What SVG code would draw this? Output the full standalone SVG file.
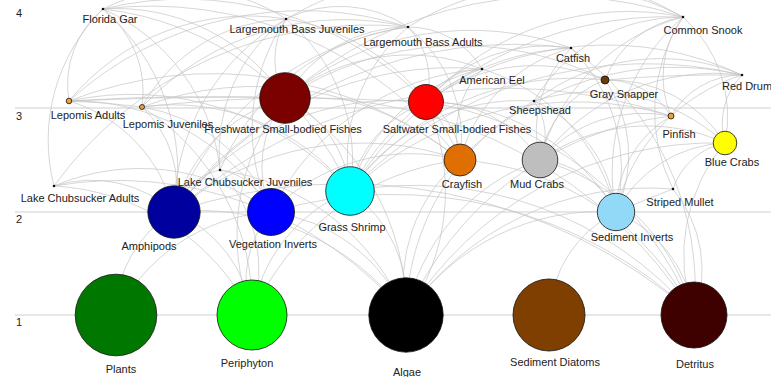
<svg xmlns="http://www.w3.org/2000/svg" width="771" height="377" viewBox="0 0 771 377">
<style>
text{font-family:"Liberation Sans",Arial,sans-serif;font-size:11px;fill:#222;text-anchor:middle}
.lvl{text-anchor:start}
.axis{stroke:#cfcfcf;stroke-width:1}
#edges path{fill:none;stroke:#c4c4c4;stroke-width:0.7}
.n{stroke:#111;stroke-width:0.8}
.dot{fill:#111}
</style>
<rect width="771" height="377" fill="#fff"/>
<g id="axes">
<line class="axis" x1="15" y1="315" x2="771" y2="315"/>
<line class="axis" x1="15" y1="212" x2="771" y2="212"/>
<line class="axis" x1="15" y1="108" x2="771" y2="108"/>
<text class="lvl" x="16" y="17">4</text>
<text class="lvl" x="16" y="120">3</text>
<text class="lvl" x="16" y="223">2</text>
<text class="lvl" x="16" y="326">1</text>
</g>
<g id="edges">
<path d="M69 101A98 98 0 0 1 103 9"/>
<path d="M103 9A105 105 0 0 1 142 107"/>
<path d="M103 9A203 203 0 0 1 285 98"/>
<path d="M54 186A184 184 0 0 1 103 9"/>
<path d="M103 9A199 199 0 0 1 220 170"/>
<path d="M103 9A307 307 0 0 1 350 191"/>
<path d="M103 9A388 388 0 0 1 460 160"/>
<path d="M103 9A215 215 0 0 1 174 212"/>
<path d="M103 9A336 336 0 0 1 426 102"/>
<path d="M103 9A183 183 0 0 1 286 19"/>
<path d="M285 98A79 79 0 0 1 286 19"/>
<path d="M142 107A169 169 0 0 1 286 19"/>
<path d="M286 19A183 183 0 0 1 350 191"/>
<path d="M174 212A223 223 0 0 1 286 19"/>
<path d="M271 212A194 194 0 0 1 286 19"/>
<path d="M286 19A224 224 0 0 1 460 160"/>
<path d="M220 170A165 165 0 0 1 286 19"/>
<path d="M69 101A232 232 0 0 1 286 19"/>
<path d="M285 98A142 142 0 0 1 408 27"/>
<path d="M69 101A347 347 0 0 1 408 27"/>
<path d="M142 107A278 278 0 0 1 408 27"/>
<path d="M54 186A388 388 0 0 1 408 27"/>
<path d="M220 170A236 236 0 0 1 408 27"/>
<path d="M408 27A143 143 0 0 1 460 160"/>
<path d="M350 191A174 174 0 0 1 408 27"/>
<path d="M286 19A122 122 0 0 1 408 27"/>
<path d="M408 27A85 85 0 0 1 482 69"/>
<path d="M408 27A77 77 0 0 1 426 102"/>
<path d="M174 212A298 298 0 0 1 408 27"/>
<path d="M426 102A271 271 0 0 1 683 17"/>
<path d="M671 116A100 100 0 0 1 683 17"/>
<path d="M673 189A172 172 0 0 1 683 17"/>
<path d="M540 160A202 202 0 0 1 683 17"/>
<path d="M683 17A133 133 0 0 1 725 143"/>
<path d="M534 101A171 171 0 0 1 683 17"/>
<path d="M605 80A100 100 0 0 1 683 17"/>
<path d="M350 191A376 376 0 0 1 683 17"/>
<path d="M285 98A406 406 0 0 1 683 17"/>
<path d="M616 212A206 206 0 0 1 683 17"/>
<path d="M408 27A275 275 0 0 1 683 17"/>
<path d="M286 19A397 397 0 0 1 683 17"/>
<path d="M460 160A158 158 0 0 1 571 48"/>
<path d="M540 160A116 116 0 0 1 571 48"/>
<path d="M571 48A170 170 0 0 1 616 212"/>
<path d="M426 102A155 155 0 0 1 571 48"/>
<path d="M174 212A430 430 0 0 1 571 48"/>
<path d="M350 191A263 263 0 0 1 571 48"/>
<path d="M571 48A294 294 0 0 1 694 315"/>
<path d="M285 98A290 290 0 0 1 571 48"/>
<path d="M460 160A94 94 0 0 1 482 69"/>
<path d="M174 212A340 340 0 0 1 482 69"/>
<path d="M271 212A255 255 0 0 1 482 69"/>
<path d="M350 191A180 180 0 0 1 482 69"/>
<path d="M426 102A65 65 0 0 1 482 69"/>
<path d="M285 98A199 199 0 0 1 482 69"/>
<path d="M482 69A196 196 0 0 1 616 212"/>
<path d="M426 102A180 180 0 0 1 605 80"/>
<path d="M605 80A75 75 0 0 1 671 116"/>
<path d="M540 160A103 103 0 0 1 605 80"/>
<path d="M605 80A136 136 0 0 1 725 143"/>
<path d="M350 191A278 278 0 0 1 605 80"/>
<path d="M605 80A132 132 0 0 1 616 212"/>
<path d="M285 98A320 320 0 0 1 605 80"/>
<path d="M725 143A70 70 0 0 1 742 75"/>
<path d="M540 160A219 219 0 0 1 742 75"/>
<path d="M616 212A186 186 0 0 1 742 75"/>
<path d="M671 116A82 82 0 0 1 742 75"/>
<path d="M426 102A317 317 0 0 1 742 75"/>
<path d="M350 191A409 409 0 0 1 742 75"/>
<path d="M534 101A210 210 0 0 1 742 75"/>
<path d="M605 80A1370 1370 0 0 1 742 75"/>
<path d="M460 160A295 295 0 0 1 742 75"/>
<path d="M69 101A2160 2160 0 0 1 285 98"/>
<path d="M69 101A153 153 0 0 1 174 212"/>
<path d="M69 101A230 230 0 0 1 271 212"/>
<path d="M69 101A295 295 0 0 1 350 191"/>
<path d="M69 101A395 395 0 0 1 460 160"/>
<path d="M69 101A730 730 0 0 1 142 107"/>
<path d="M69 101A3570 3570 0 0 1 426 102"/>
<path d="M142 107A110 110 0 0 1 174 212"/>
<path d="M142 107A166 166 0 0 1 271 212"/>
<path d="M142 107A224 224 0 0 1 350 191"/>
<path d="M142 107A235 235 0 0 1 252 315"/>
<path d="M142 107A1430 1430 0 0 1 285 98"/>
<path d="M142 107A322 322 0 0 1 460 160"/>
<path d="M174 212A159 159 0 0 1 285 98"/>
<path d="M271 212A115 115 0 0 1 285 98"/>
<path d="M285 98A113 113 0 0 1 350 191"/>
<path d="M252 315A220 220 0 0 1 285 98"/>
<path d="M285 98A248 248 0 0 1 406 315"/>
<path d="M285 98A463 463 0 0 1 694 315"/>
<path d="M350 191A117 117 0 0 1 426 102"/>
<path d="M426 102A220 220 0 0 1 616 212"/>
<path d="M426 102A214 214 0 0 1 406 315"/>
<path d="M426 102A342 342 0 0 1 694 315"/>
<path d="M426 102A128 128 0 0 1 540 160"/>
<path d="M174 212A275 275 0 0 1 426 102"/>
<path d="M426 102A67 67 0 0 1 460 160"/>
<path d="M534 101A59 59 0 0 1 540 160"/>
<path d="M534 101A196 196 0 0 1 725 143"/>
<path d="M534 101A138 138 0 0 1 616 212"/>
<path d="M406 315A249 249 0 0 1 534 101"/>
<path d="M350 191A205 205 0 0 1 534 101"/>
<path d="M616 212A111 111 0 0 1 671 116"/>
<path d="M350 191A330 330 0 0 1 671 116"/>
<path d="M406 315A331 331 0 0 1 671 116"/>
<path d="M174 212A506 506 0 0 1 671 116"/>
<path d="M540 160A138 138 0 0 1 671 116"/>
<path d="M616 212A129 129 0 0 1 725 143"/>
<path d="M694 315A175 175 0 0 1 725 143"/>
<path d="M540 160A186 186 0 0 1 725 143"/>
<path d="M406 315A363 363 0 0 1 725 143"/>
<path d="M673 189A69 69 0 0 1 725 143"/>
<path d="M460 160A281 281 0 0 1 694 315"/>
<path d="M252 315A259 259 0 0 1 460 160"/>
<path d="M406 315A164 164 0 0 1 460 160"/>
<path d="M271 212A196 196 0 0 1 460 160"/>
<path d="M174 212A291 291 0 0 1 460 160"/>
<path d="M540 160A218 218 0 0 1 694 315"/>
<path d="M540 160A92 92 0 0 1 616 212"/>
<path d="M406 315A205 205 0 0 1 540 160"/>
<path d="M350 191A136 136 0 0 1 406 315"/>
<path d="M252 315A158 158 0 0 1 350 191"/>
<path d="M350 191A366 366 0 0 1 694 315"/>
<path d="M54 186A123 123 0 0 1 174 212"/>
<path d="M54 186A219 219 0 0 1 271 212"/>
<path d="M54 186A236 236 0 0 1 252 315"/>
<path d="M54 186A375 375 0 0 1 406 315"/>
<path d="M174 212A62 62 0 0 1 220 170"/>
<path d="M220 170A66 66 0 0 1 271 212"/>
<path d="M220 170A148 148 0 0 1 252 315"/>
<path d="M220 170A236 236 0 0 1 406 315"/>
<path d="M116 315A118 118 0 0 1 174 212"/>
<path d="M174 212A129 129 0 0 1 252 315"/>
<path d="M174 212A254 254 0 0 1 406 315"/>
<path d="M174 212A530 530 0 0 1 694 315"/>
<path d="M116 315A186 186 0 0 1 271 212"/>
<path d="M252 315A105 105 0 0 1 271 212"/>
<path d="M271 212A170 170 0 0 1 406 315"/>
<path d="M271 212A435 435 0 0 1 694 315"/>
<path d="M549 315A123 123 0 0 1 616 212"/>
<path d="M616 212A129 129 0 0 1 694 315"/>
<path d="M406 315A234 234 0 0 1 616 212"/>
<path d="M673 189A128 128 0 0 1 694 315"/>
<path d="M406 315A295 295 0 0 1 673 189"/>
<path d="M616 212A2000 2000 0 0 1 673 189"/>
</g>
<g id="n-florida-gar"><circle class="dot" cx="103" cy="9" r="1.3"/><text x="110" y="23">Florida Gar</text></g>
<g id="n-lmb-juveniles"><circle class="dot" cx="286" cy="19" r="1.3"/><text x="297" y="33">Largemouth Bass Juveniles</text></g>
<g id="n-lmb-adults"><circle class="dot" cx="408" cy="27" r="1.3"/><text x="423" y="46">Largemouth Bass Adults</text></g>
<g id="n-common-snook"><circle class="dot" cx="683" cy="17" r="1.3"/><text x="703" y="34">Common Snook</text></g>
<g id="n-catfish"><circle class="dot" cx="571" cy="48" r="1.3"/><text x="573" y="62">Catfish</text></g>
<g id="n-american-eel"><circle class="dot" cx="482" cy="69" r="1.3"/><text x="492" y="84">American Eel</text></g>
<g id="n-gray-snapper"><circle class="n" cx="605" cy="80" r="4" fill="#6b3a0b"/><text x="624" y="98">Gray Snapper</text></g>
<g id="n-red-drum"><circle class="dot" cx="742" cy="75" r="1.3"/><text x="747" y="90">Red Drum</text></g>
<g id="n-lepomis-adults"><circle class="n" cx="69" cy="101" r="2.8" fill="#f0a040"/><text x="88" y="119">Lepomis Adults</text></g>
<g id="n-lepomis-juveniles"><circle class="n" cx="142" cy="107" r="2.5" fill="#f0a040"/><text x="168" y="128">Lepomis Juveniles</text></g>
<g id="n-freshwater-fishes"><circle class="n" cx="285" cy="98" r="25.3" fill="#7b0000"/><text x="283" y="133">Freshwater Small-bodied Fishes</text></g>
<g id="n-saltwater-fishes"><circle class="n" cx="426" cy="102" r="17.5" fill="#ff0000"/><text x="457" y="133">Saltwater Small-bodied Fishes</text></g>
<g id="n-sheepshead"><circle class="dot" cx="534" cy="101" r="1.3"/><text x="540" y="114">Sheepshead</text></g>
<g id="n-pinfish"><circle class="n" cx="671" cy="116" r="3" fill="#f0a030"/><text x="679" y="138">Pinfish</text></g>
<g id="n-blue-crabs"><circle class="n" cx="725" cy="143" r="11.8" fill="#ffff00"/><text x="732" y="166">Blue Crabs</text></g>
<g id="n-crayfish"><circle class="n" cx="460" cy="160" r="16" fill="#df6f00"/><text x="462" y="188">Crayfish</text></g>
<g id="n-mud-crabs"><circle class="n" cx="540" cy="160" r="17.8" fill="#bebebe"/><text x="537" y="188">Mud Crabs</text></g>
<g id="n-lc-juveniles"><circle class="dot" cx="220" cy="170" r="1.3"/><text x="245" y="186">Lake Chubsucker Juveniles</text></g>
<g id="n-lc-adults"><circle class="dot" cx="54" cy="186" r="1.3"/><text x="80" y="202">Lake Chubsucker Adults</text></g>
<g id="n-grass-shrimp"><circle class="n" cx="350" cy="191" r="24.3" fill="#00ffff"/><text x="352" y="231">Grass Shrimp</text></g>
<g id="n-striped-mullet"><circle class="dot" cx="673" cy="189" r="1.3"/><text x="680" y="206">Striped Mullet</text></g>
<g id="n-amphipods"><circle class="n" cx="174" cy="212" r="26.2" fill="#00009f"/><text x="149" y="250">Amphipods</text></g>
<g id="n-vegetation-inverts"><circle class="n" cx="271" cy="212" r="23.5" fill="#0000ff"/><text x="273" y="248">Vegetation Inverts</text></g>
<g id="n-sediment-inverts"><circle class="n" cx="616" cy="212" r="18.7" fill="#91d9f7"/><text x="632" y="241">Sediment Inverts</text></g>
<g id="n-plants"><circle class="n" cx="116" cy="315" r="40.8" fill="#007800"/><text x="121" y="373">Plants</text></g>
<g id="n-periphyton"><circle class="n" cx="252" cy="315" r="35" fill="#00ff00"/><text x="247" y="367">Periphyton</text></g>
<g id="n-algae"><circle class="n" cx="406" cy="315" r="37.2" fill="#000000"/><text x="407" y="376">Algae</text></g>
<g id="n-sediment-diatoms"><circle class="n" cx="549" cy="315" r="36" fill="#7f3f00"/><text x="555" y="366">Sediment Diatoms</text></g>
<g id="n-detritus"><circle class="n" cx="694" cy="315" r="33" fill="#3f0000"/><text x="695" y="368">Detritus</text></g>
</svg>
